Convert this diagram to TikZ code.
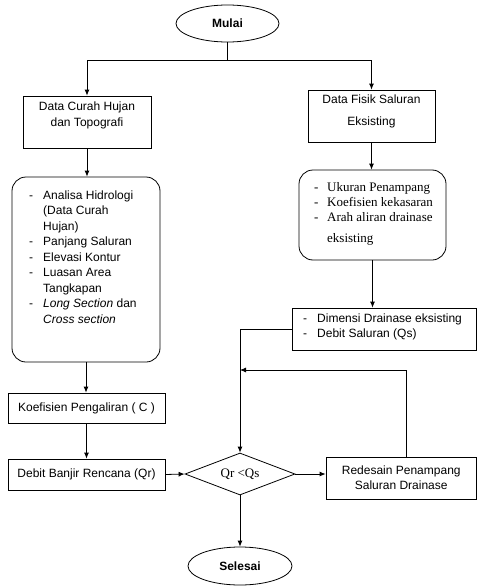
\documentclass[tikz,border=0pt]{standalone}
\usepackage{fontspec}
\setmainfont{Liberation Sans}
\newfontfamily\tms{Liberation Serif}
\usetikzlibrary{shapes.geometric,arrows.meta,calc}
\begin{document}
\begin{tikzpicture}[x=1pt,y=-1pt,
  base/.style={draw, line width=0.8pt, inner sep=0pt},
  box/.style={base, rectangle, align=center, font=\fontsize{12}{16}\selectfont},
  rbox/.style={base, rectangle, rounded corners=14pt},
  term/.style={base, ellipse, font=\bfseries\fontsize{12}{14}\selectfont},
  lst/.style={anchor=north west, inner sep=0pt},
  arr/.style={line width=0.8pt, -{Latex[length=6pt,width=5pt]}},
  ln/.style={line width=0.8pt}]
\useasboundingbox (0,0) rectangle (477,586);

\node[term, minimum width=103pt, minimum height=37pt] (mulai) at (227.5,23.5) {Mulai};
\node[box, minimum width=128pt, minimum height=52pt] (dch) at (87,122) {Data Curah Hujan\\dan Topografi\rule[-15pt]{0pt}{15pt}};
\node[box, font=\fontsize{12}{22}\selectfont, minimum width=127pt, minimum height=52pt] (dfs) at (371.5,116) {Data Fisik Saluran\\Eksisting\rule[-11pt]{0pt}{11pt}};

\node[rbox, minimum width=148pt, minimum height=185pt] (hid) at (86,269.5) {};
\node[lst, font=\fontsize{12}{15.5}\selectfont] (hidt) at (29,188) {\begin{tabular}{@{}p{14pt}@{}l@{}}-&Analisa Hidrologi\\&(Data Curah\\&Hujan)\\-&Panjang Saluran\\-&Elevasi Kontur\\-&Luasan Area\\&Tangkapan\\-&\textit{Long Section} dan\\&\textit{Cross section}\end{tabular}};

\node[rbox, minimum width=147pt, minimum height=90pt] (uk) at (372.5,215) {};
\node[lst, font=\tms\fontsize{13}{15}\selectfont] (ukt) at (314,181) {\begin{tabular}{@{}p{13pt}@{}l@{}}-&Ukuran Penampang\\-&Koefisien kekasaran\\-&Arah aliran drainase\\[6pt]&eksisting\end{tabular}};

\node[box, minimum width=184.5pt, minimum height=42pt] (dim) at (384.25,329) {};
\node[lst, font=\fontsize{12}{15}\selectfont] (dimt) at (303,311.5) {\begin{tabular}{@{}p{14pt}@{}l@{}}-&Dimensi Drainase eksisting\\-&Debit Saluran (Qs)\end{tabular}};

\node[box, minimum width=157pt, minimum height=30pt] (koef) at (86.5,408) {Koefisien Pengaliran ( C )};
\node[box, minimum width=157pt, minimum height=31pt] (debit) at (86.5,474.5) {Debit Banjir Rencana (Qr)};
\node[base, diamond, aspect=2.6, minimum width=110pt, minimum height=42pt, font=\tms\fontsize{13}{15}\selectfont] (dia) at (240,474) {Qr <Qs};
\node[box, font=\fontsize{12}{15}\selectfont, minimum width=150.5pt, minimum height=42pt] (red) at (401.25,478) {Redesain Penampang\\Saluran Drainase};
\node[term, minimum width=104pt, minimum height=38pt] (sel) at (240,566) {Selesai};

\draw[ln] (mulai.south) -- ++(0,18) coordinate (sp);
\draw[arr] (sp) -| (dch.north);
\draw[arr] (sp) -| (dfs.north);
\draw[arr] (dch.south) -- (dch.south |- hid.north);
\draw[arr] (hid.south) -- (hid.south |- koef.north);
\draw[arr] (koef.south) -- (debit.north);
\draw[arr] (debit.east) -- (dia.west);
\draw[arr] (dia.east) -- (dia.east -| red.west);
\draw[arr] (dia.south) -- (sel.north);
\draw[arr] (dfs.south) -- (dfs.south |- uk.north);
\draw[arr] (uk.south) -- (uk.south |- dim.north);
\draw[arr] (dim.west) -| (dia.north);
\coordinate (fb) at (240,370);
\draw[arr] ([xshift=5pt]red.north) |- (fb);
\end{tikzpicture}
\end{document}
